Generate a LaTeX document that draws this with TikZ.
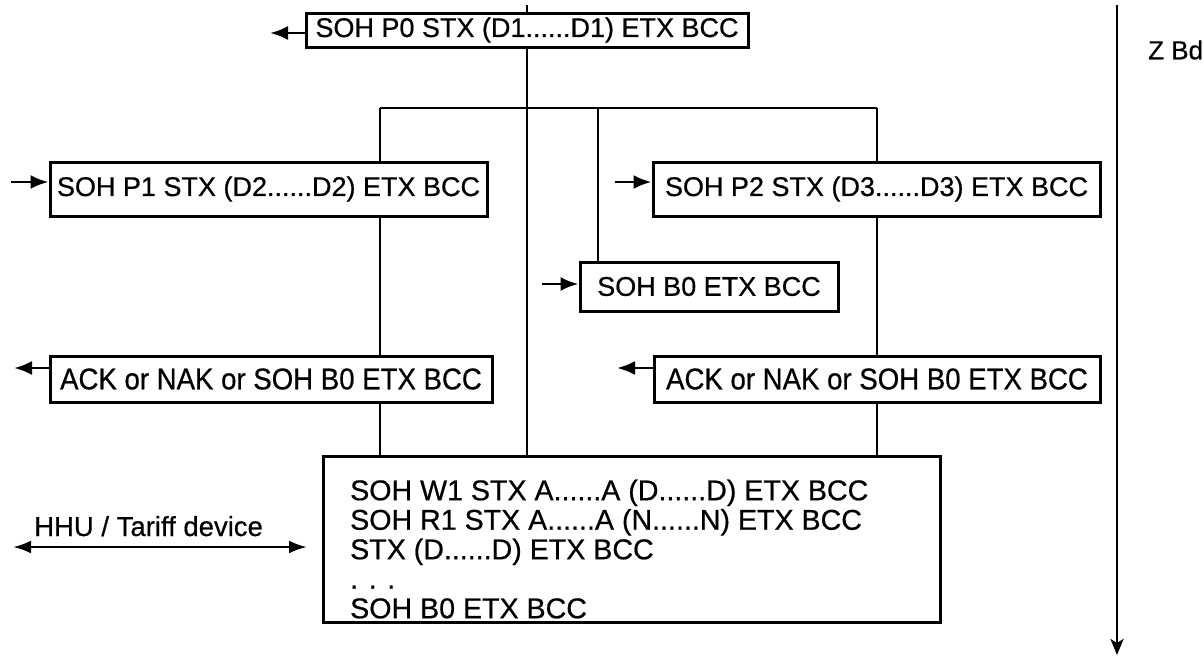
\documentclass[tikz,border=0pt]{standalone}
\usepackage{fontspec}
\setmainfont[FakeBold=0.6]{Liberation Sans}
\newfontfamily\condfont[FakeStretch=0.92,FakeBold=0.6]{Liberation Sans}
\usetikzlibrary{arrows.meta}
\begin{document}
\begin{tikzpicture}[x=1pt,y=-1pt,
  box/.style={draw, line width=3pt, inner sep=0pt, font=\fontsize{27}{30}\selectfont},
  ackbox/.style={box, font=\condfont\fontsize{30}{32}\selectfont},
  wire/.style={line width=2.8pt},
  arr/.style={line width=2.8pt, -{Latex[length=18pt,width=14pt]}},
  lbl/.style={inner sep=0pt, font=\fontsize{27}{30}\selectfont}]
\useasboundingbox (0,0) rectangle (1203,656);

% boxes
\node[box, minimum width=442pt, minimum height=34pt] (p0) at (527,30) {SOH P0 STX (D1......D1) ETX BCC};
\node[box, minimum width=437pt, minimum height=54pt] (p1) at (268.5,189) {SOH P1 STX (D2......D2) ETX BCC};
\node[box, minimum width=447pt, minimum height=54pt] (p2) at (876.5,189) {SOH P2 STX (D3......D3) ETX BCC};
\node[box, minimum width=258pt, minimum height=49pt] (b0) at (709,286.5) {SOH B0 ETX BCC};
\node[ackbox, minimum width=442pt, minimum height=46pt] (ackl) at (271,379) {ACK or NAK or SOH B0 ETX BCC};
\node[ackbox, minimum width=446pt, minimum height=46pt] (ackr) at (877,379) {ACK or NAK or SOH B0 ETX BCC};
\node[box, minimum width=617pt, minimum height=166pt] (big) at (631.5,539) {};
\node[lbl, anchor=west, align=left, font=\fontsize{28.6}{29.5}\selectfont] (bigtext) at (350,549)
  {SOH W1 STX A......A (D......D) ETX BCC\\
   SOH R1 STX A......A (N......N) ETX BCC\\
   STX (D......D) ETX BCC\\
   . . .\\
   SOH B0 ETX BCC};

% coordinates
\coordinate (top) at (527,5);
\coordinate (hl) at (380,108);
\coordinate (hm) at (598,108);
\coordinate (hr) at (877,108);
\coordinate (a0) at (270,33);
\coordinate (a1) at (11,182);
\coordinate (a2) at (615,182);
\coordinate (a3) at (542,284);
\coordinate (a4) at (14,368);
\coordinate (a5) at (617,368);
\coordinate (hhuL) at (13,547);
\coordinate (hhuR) at (307,547);
\coordinate (zt) at (1117,5);
\coordinate (zb) at (1117,655);

% wires
\draw[wire] (top) -- (p0.north);
\draw[wire] (p0.south) -- (p0.south |- big.north);
\draw[wire] (hl) -- (hr);
\draw[wire] (hl) -- (hl |- p1.north);
\draw[wire] (hl |- p1.south) -- (hl |- ackl.north);
\draw[wire] (hl |- ackl.south) -- (hl |- big.north);
\draw[wire] (hm) -- (hm |- b0.north);
\draw[wire] (hr) -- (hr |- p2.north);
\draw[wire] (hr |- p2.south) -- (hr |- ackr.north);
\draw[wire] (hr |- ackr.south) -- (hr |- big.north);

% arrows
\draw[arr] (a0 -| p0.west) -- (a0);
\draw[arr] (a1) -- (a1 -| p1.west);
\draw[arr] (a2) -- (a2 -| p2.west);
\draw[arr] (a3) -- (a3 -| b0.west);
\draw[arr] (a4 -| ackl.west) -- (a4);
\draw[arr] (a5 -| ackr.west) -- (a5);
\draw[line width=2.8pt, {Latex[length=18pt,width=13pt]}-{Latex[length=18pt,width=13pt]}] (hhuL) -- (hhuR);
\draw[line width=2.8pt, -{Stealth[length=16pt,width=13pt,inset=4pt]}] (zt) -- (zb);

% labels
\node[lbl, anchor=base west, font=\fontsize{27.5}{30}\selectfont] (hhu) at (34,536) {HHU / Tariff device};
\node[lbl, anchor=west, font=\fontsize{26}{28}\selectfont] (zbd) at (1148,50) {Z Bd};
\end{tikzpicture}
\end{document}
